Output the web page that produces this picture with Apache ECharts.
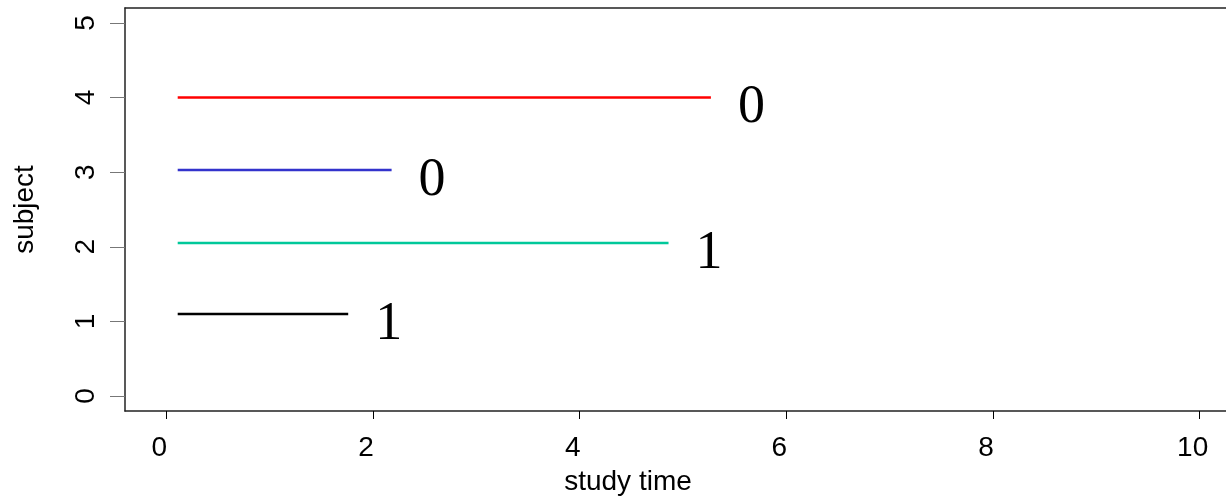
<!DOCTYPE html>
<html>
<head>
<meta charset="utf-8">
<script src="https://cdn.jsdelivr.net/npm/echarts@6/dist/echarts.min.js"></script>
<style>
  html, body { margin: 0; padding: 0; background: #fff; overflow: hidden; }
  #wrap { width: 1226px; height: 502px; overflow: hidden; position: relative; }
  /* the reference crops the right side of the plot box, so the chart is a bit wider than the window */
  #chart { width: 1242px; height: 502px; position: absolute; left: 0; top: 0; }
</style>
</head>
<body>
<div id="wrap"><div id="chart"></div></div>
<script>
// follow-up of each subject: start, stop, row, status
const subjects = ["1", "2", "3", "4"];
const startTimes = [0.11, 0.11, 0.11, 0.11];
const stopTimes = [1.76, 4.86, 2.18, 5.27];
const rowLevels = [1.1, 2.05, 3.03, 4.0];
const statusLabels = ["1", "1", "0", "0"];

const xTicks = [0, 2, 4, 6, 8, 10];
const yTicks = [0, 1, 2, 3, 4, 5];

const lineColors = ["#000000", "#00c89a", "#3333cc", "#ff0000"];

const chart = echarts.init(document.getElementById("chart"));

const axisFont = { fontFamily: "Liberation Sans, Arial, sans-serif", fontSize: 28, color: "#000" };
const boxLine = { show: true, onZero: false, lineStyle: { color: "#222", width: 1.5 } };

const series = subjects.map((s, i) => ({
  name: s,
  type: "line",
  data: [[startTimes[i], rowLevels[i]], [stopTimes[i], rowLevels[i]]],
  showSymbol: false,
  symbol: "none",
  lineStyle: { color: lineColors[i], width: 2.5 },
  endLabel: {
    show: true,
    formatter: statusLabels[i],
    distance: 27,
    offset: [0, 10.5],
    fontFamily: "Liberation Serif, Times New Roman, serif",
    fontSize: 54,
    color: "#000"
  },
  silent: true
}));

const options = {
  animation: false,
  grid: {
    left: 125,
    top: 8,
    right: 1,
    bottom: 91
  },
  xAxis: [
    {
      type: "value",
      position: "bottom",
      min: -0.4,
      max: 10.4,
      name: "study time",
      nameLocation: "middle",
      nameGap: 57,
      nameTextStyle: Object.assign({}, axisFont, { padding: [0, 110, 0, 0] }),
      axisLine: boxLine,
      splitLine: { show: false },
      axisTick: { show: true, length: 8, customValues: xTicks, lineStyle: { color: "#000" } },
      axisLabel: Object.assign({}, axisFont, { customValues: xTicks, margin: 23, padding: [0, 14, 0, 0] })
    },
    {
      // top edge of the plot box
      type: "value",
      position: "top",
      min: -0.4,
      max: 10.4,
      axisLine: boxLine,
      axisTick: { show: false },
      axisLabel: { show: false },
      splitLine: { show: false }
    }
  ],
  yAxis: {
    type: "value",
    min: -0.2,
    max: 5.2,
    name: "subject",
    nameLocation: "middle",
    nameGap: 86,
    nameTextStyle: axisFont,
    axisLine: boxLine,
    splitLine: { show: false },
    axisTick: { show: true, length: 15, customValues: yTicks, lineStyle: { color: "#777" } },
    axisLabel: Object.assign({}, axisFont, { customValues: yTicks, rotate: 90, margin: 25 })
  },
  series: series
};

chart.setOption(options);
</script>
</body>
</html>
